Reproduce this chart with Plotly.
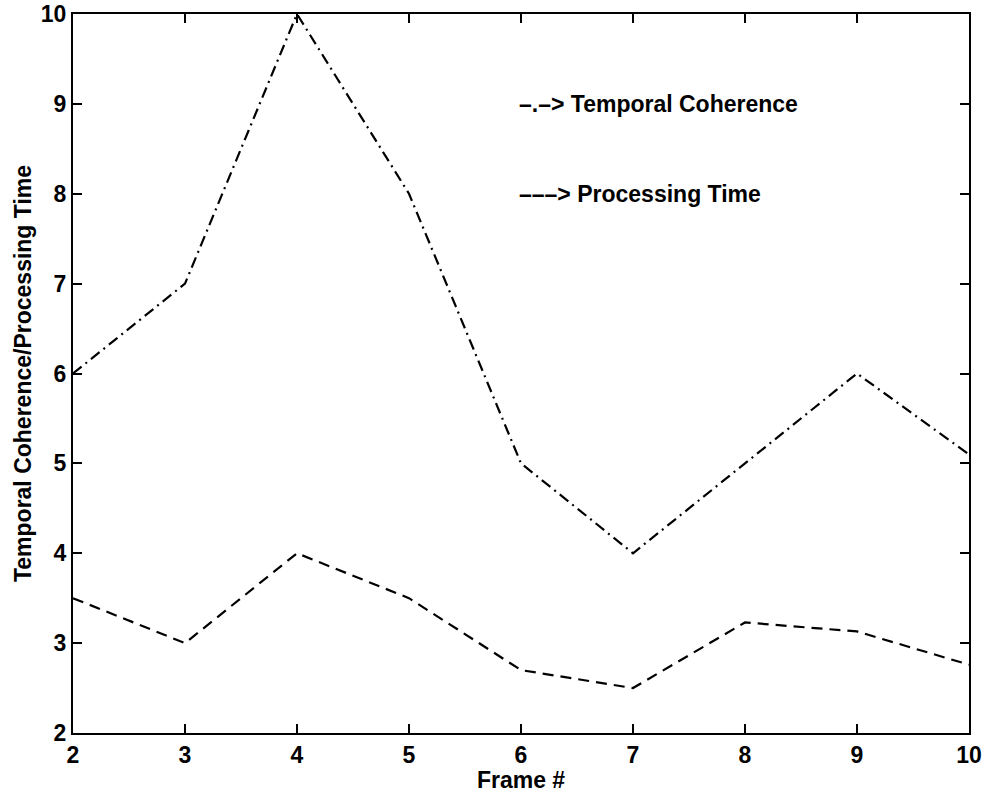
import plotly.graph_objects as go

frames = [2, 3, 4, 5, 6, 7, 8, 9, 10]
temporal_coherence = [6.0, 7.0, 10.0, 8.0, 5.0, 4.0, 5.0, 6.0, 5.1]
processing_time = [3.5, 3.0, 4.0, 3.5, 2.7, 2.5, 3.23, 3.13, 2.76]

label_tc = "–.–> Temporal Coherence"
label_pt = "–––> Processing Time"
x_title = "Frame #"
y_title = "Temporal Coherence/Processing Time"

FONT = "Liberation Sans, Arial, Helvetica, sans-serif"
SIZE = 23

fig = go.Figure()
fig.add_trace(go.Scatter(x=frames, y=temporal_coherence, mode="lines",
                         line=dict(color="black", width=2.2, dash="11px,5px,2px,5px"),
                         showlegend=False))
fig.add_trace(go.Scatter(x=frames, y=processing_time, mode="lines",
                         line=dict(color="black", width=2.2, dash="11px,7px"),
                         showlegend=False))

fig.add_annotation(x=5.96, y=9.0, xref="x", yref="y", text=label_tc, showarrow=False,
                   xanchor="left", yanchor="middle",
                   font=dict(family=FONT, size=SIZE, color="black", weight="bold"))
fig.add_annotation(x=5.96, y=8.0, xref="x", yref="y", text=label_pt, showarrow=False,
                   xanchor="left", yanchor="middle",
                   font=dict(family=FONT, size=SIZE, color="black", weight="bold"))

axis_common = dict(showgrid=False, zeroline=False, showline=True, linecolor="black",
                   linewidth=2, mirror="ticks", ticks="inside", ticklen=9,
                   tickwidth=2, tickcolor="black", automargin=False,
                   ticklabeloverflow="allow",
                   tickfont=dict(family=FONT, size=SIZE, color="black", weight="bold"))

fig.update_xaxes(range=[2, 10], tickmode="array", tickvals=frames,
                 ticktext=[str(v) for v in frames],
                 title=dict(text=x_title, standoff=0,
                            font=dict(family=FONT, size=SIZE, color="black", weight="bold")),
                 **axis_common)
fig.update_yaxes(range=[2, 10], tickmode="array", tickvals=list(range(2, 11)),
                 ticktext=[str(v) for v in range(2, 11)],
                 title=dict(text=y_title, standoff=3,
                            font=dict(family=FONT, size=SIZE, color="black", weight="bold")),
                 **axis_common)

fig.update_layout(width=986, height=793, plot_bgcolor="white", paper_bgcolor="white",
                  margin=dict(l=73, r=17, t=14, b=60, autoexpand=False),
                  font=dict(family=FONT), hovermode=False)

# remove the browser's default 8px body margin so the figure fills the window
fig.write_html("out.html", config={"displayModeBar": False},
               post_script="document.body.style.margin='0';document.body.style.overflow='hidden';")
